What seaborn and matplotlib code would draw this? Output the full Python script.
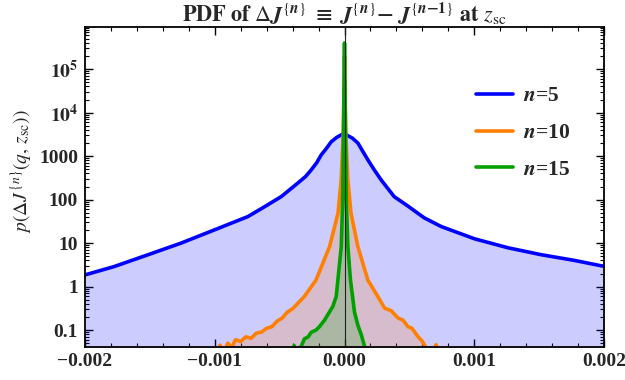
import numpy as np
import pandas as pd
import matplotlib
matplotlib.use("Agg")
import matplotlib.pyplot as plt
import matplotlib.ticker as mticker
import seaborn as sns

# values (x in units of 1e-3)
blue_x = [-2.0, -1.777, -1.517, -1.260, -1.005, -0.745, -0.620, -0.488, -0.360, -0.300,
          -0.257, -0.215, -0.179, -0.140, -0.102, -0.060, -0.025, 0.0, 0.013, 0.060,
          0.103, 0.140, 0.181, 0.230, 0.283, 0.383, 0.489, 0.615, 0.746, 1.001,
          1.261, 1.518, 1.773, 1.981, 2.0]
blue_p = [1.86, 2.88, 5.37, 10.0, 20.0, 40.7, 67.6, 117, 240, 340,
          480, 700, 1070, 1500, 2140, 2700, 3090, 3390, 3090, 2600,
          2000, 1300, 813, 480, 282, 117, 71, 38, 24, 12.6,
          7.8, 5.4, 4.0, 3.0, 2.95]

orange_x = [-1.0, -0.96, -0.93, -0.90, -0.87, -0.84, -0.80, -0.76, -0.72, -0.68,
            -0.64, -0.60, -0.56, -0.52, -0.48, -0.44, -0.40, -0.31, -0.22, -0.115,
            -0.05, -0.026, -0.01, 0.0, 0.01, 0.026, 0.05, 0.103, 0.18, 0.257,
            0.309, 0.36, 0.412, 0.45, 0.489, 0.52, 0.566, 0.60, 0.617, 0.65,
            0.68, 0.707, 0.74]
orange_p = [0.02, 0.045, 0.03, 0.05, 0.04, 0.06, 0.055, 0.07, 0.065, 0.085,
            0.09, 0.11, 0.12, 0.16, 0.19, 0.26, 0.31, 0.59, 1.41, 8.3,
            49, 280, 3000, 2.0e5, 3000, 280, 49, 8.3, 1.41, 0.59,
            0.32, 0.28, 0.19, 0.17, 0.12, 0.11, 0.071, 0.055, 0.045, 0.03,
            0.035, 0.046, 0.02]

green_x = [-0.40, -0.388, -0.37, -0.334, -0.309, -0.28, -0.257, -0.22, -0.193, -0.154,
           -0.09, -0.064, -0.051, -0.025, -0.014, -0.006, 0.0, 0.006, 0.014, 0.026,
           0.046, 0.077, 0.103, 0.129, 0.152, 0.17]
green_p = [0.03, 0.044, 0.03, 0.042, 0.063, 0.07, 0.089, 0.10, 0.12, 0.17,
           0.35, 0.59, 1.41, 8.3, 100, 1.0e4, 4.0e5, 1.0e4, 100, 8.3,
           1.41, 0.26, 0.13, 0.079, 0.045, 0.03]

labels = ["5", "10", "15"]
colors = ["#0000ff", "#ff8000", "#00a000"]

sns.set_style("ticks")
plt.rcParams["font.family"] = ["Liberation Serif", "DejaVu Serif"]
plt.rcParams["mathtext.fontset"] = "stix"

fig = plt.figure(figsize=(6.25, 3.8), dpi=100)
ax = fig.add_axes([85 / 625, 1 - 346.5 / 380, 519 / 625, 319.5 / 380])
ax.set_yscale("log")
ymin, ymax = 0.042, 9.3e5

series = [(blue_x, blue_p), (orange_x, orange_p), (green_x, green_p)]
for (xs, ps), lab, col in zip(series, labels, colors):
    df = pd.DataFrame({"x": np.array(xs) * 1e-3, "p": ps})
    ax.fill_between(df["x"], df["p"], 1e-3, color=col, alpha=0.2, lw=0)
    sns.lineplot(data=df, x="x", y="p", ax=ax, color=col, lw=2.6,
                 estimator=None, sort=False,
                 label=r"$\mathbfit{n}$=" + lab)

ax.axvline(0, color="#222222", lw=0.8, zorder=5)

ax.set_xlim(-0.002, 0.002)
ax.set_ylim(ymin, ymax)

# ticks
ax.xaxis.set_major_locator(mticker.FixedLocator([-0.002, -0.001, 0, 0.001, 0.002]))
ax.xaxis.set_major_formatter(mticker.FixedFormatter(
    ["\u22120.002", "\u22120.001", "0.000", "0.001", "0.002"]))
ax.xaxis.set_minor_locator(mticker.MultipleLocator(0.0002))
yt = [0.1, 1, 10, 100, 1000, 1e4, 1e5]
ax.yaxis.set_major_locator(mticker.FixedLocator(yt))
ax.yaxis.set_major_formatter(mticker.FixedFormatter(
    ["0.1", "1", "10", "100", "1000", r"$\mathbf{10^{4}}$", r"$\mathbf{10^{5}}$"]))
ax.yaxis.set_minor_locator(mticker.LogLocator(base=10, subs=np.arange(2, 10)))
ax.yaxis.set_minor_formatter(mticker.NullFormatter())
ax.tick_params(which="both", direction="in", top=True, right=True, color="black")
ax.tick_params(which="major", length=6, width=1.0, labelsize=14, pad=5)
ax.tick_params(which="minor", length=3, width=0.8)
for t in ax.get_xticklabels() + ax.get_yticklabels():
    t.set_fontweight("bold")
for s in ax.spines.values():
    s.set_linewidth(1.3)
    s.set_color("black")

ax.set_xlabel("")
ax.set_ylabel(r"$p(\Delta J^{\{n\}}(q,\, z_{\mathrm{sc}}))$", fontsize=14)
ax.yaxis.set_label_coords(-0.097, 0.55)
ax.set_title(r"$\mathbf{PDF\ of}\ \Delta\mathbfit{J}^{\{\mathbfit{n}\}}\ \mathbf{\equiv}\ "
             r"\mathbfit{J}^{\{\mathbfit{n}\}}\mathbf{-}\ \mathbfit{J}^{\{\mathbfit{n}\mathbf{-1}\}}"
             r"\ \mathbf{at}\ z_{\mathrm{sc}}$", fontsize=16, pad=3)

leg = ax.legend(loc="upper left", bbox_to_anchor=(0.753, 0.815), frameon=False,
                prop={"size": 15.5, "weight": "bold"}, handlelength=1.75,
                handletextpad=0.45, labelspacing=0.78, borderpad=0, borderaxespad=0)
for h in leg.get_lines():
    h.set_linewidth(2.6)

fig.savefig("out.png", dpi=100)
